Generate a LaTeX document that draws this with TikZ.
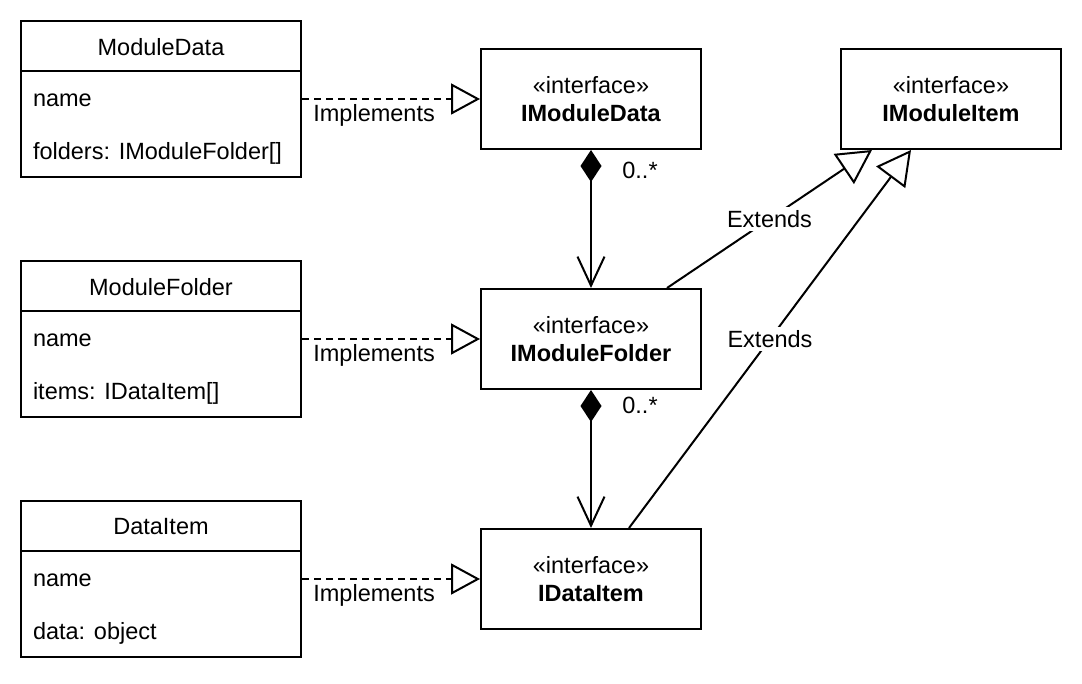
\documentclass[tikz,border=0pt]{standalone}
\usepackage{fontspec}
\setmainfont{Liberation Sans}
\usetikzlibrary{arrows.meta,calc}
\begin{document}
\begin{tikzpicture}[x=0.5pt,y=-0.5pt, line width=1pt,
  every node/.style={font=\fontsize{11.75}{14}\selectfont, text=black},
  cls/.style={draw, rectangle, minimum width=140pt, minimum height=78pt, inner sep=0pt},
  iface/.style={draw, rectangle, minimum width=110pt, minimum height=50pt, align=center, inner sep=0pt},
  attr/.style={anchor=west, inner sep=0pt},
  ttl/.style={inner sep=0pt},
  lbl/.style={inner sep=1.5pt},
  elbl/.style={inner sep=1.5pt, fill=white},
  impl/.style={dash pattern=on 3.5pt off 2.5pt, -{Triangle[open,length=14.5pt,width=15.5pt]}},
  ext/.style={-{Triangle[open,length=17pt,width=18pt]}},
  comp/.style={{Diamond[length=16pt,width=10.5pt]}-{Straight Barb[length=14.5pt,width=13.5pt]}}
]
\useasboundingbox (0,0) rectangle (1082,684);

% class boxes
\node[cls] (md) at (161,99) {};
\node[cls] (mf) at (161,339) {};
\node[cls] (di) at (161,579) {};
\foreach \n in {md,mf,di}{
  \draw ($(\n.north west)+(0,51)$) -- ($(\n.north east)+(0,51)$);
}
\node[ttl] (mdt) at (161,47) {ModuleData};
\node[attr] (mda) at (32,100) {name};
\node[attr] (mdb) at (32,153) {folders: IModuleFolder[]};
\node[ttl] (mft) at (161,287) {ModuleFolder};
\node[attr] (mfa) at (32,340) {name};
\node[attr] (mfb) at (32,393) {items: IDataItem[]};
\node[ttl] (dit) at (161,527) {DataItem};
\node[attr] (dia) at (32,580) {name};
\node[attr] (dib) at (32,633) {data: object};

% interfaces
\node[iface] (imd) at (591,99) {«interface»\\\textbf{IModuleData}};
\node[iface] (imf) at (591,339) {«interface»\\\textbf{IModuleFolder}};
\node[iface] (idi) at (591,579) {«interface»\\\textbf{IDataItem}};
\node[iface] (imi) at (951,99) {«interface»\\\textbf{IModuleItem}};

% implements
\draw[impl] (md.east) -- (imd.west) node[lbl, pos=0.405, yshift=-8pt] {Implements};
\draw[impl] (mf.east) -- (imf.west) node[lbl, pos=0.405, yshift=-8pt] {Implements};
\draw[impl] (di.east) -- (idi.west) node[lbl, pos=0.405, yshift=-8pt] {Implements};

% composition
\draw[comp] (imd.south) -- (imf.north);
\node[lbl] (m1) at (640,170) {0..*};
\draw[comp] (imf.south) -- (idi.north);
\node[lbl] (m2) at (640,405) {0..*};

% extends
\coordinate (e1s) at ($(imf.north)+(76,0)$);
\coordinate (e1t) at ($(imi.south west)+(32,0)$);
\coordinate (e2s) at ($(idi.north)+(38,0)$);
\coordinate (e2t) at ($(imi.south west)+(71,0)$);
\draw[ext] (e1s) -- (e1t) node[elbl, midway] {Extends};
\draw[ext] (e2s) -- (e2t) node[elbl, midway] {Extends};
\end{tikzpicture}
\end{document}
